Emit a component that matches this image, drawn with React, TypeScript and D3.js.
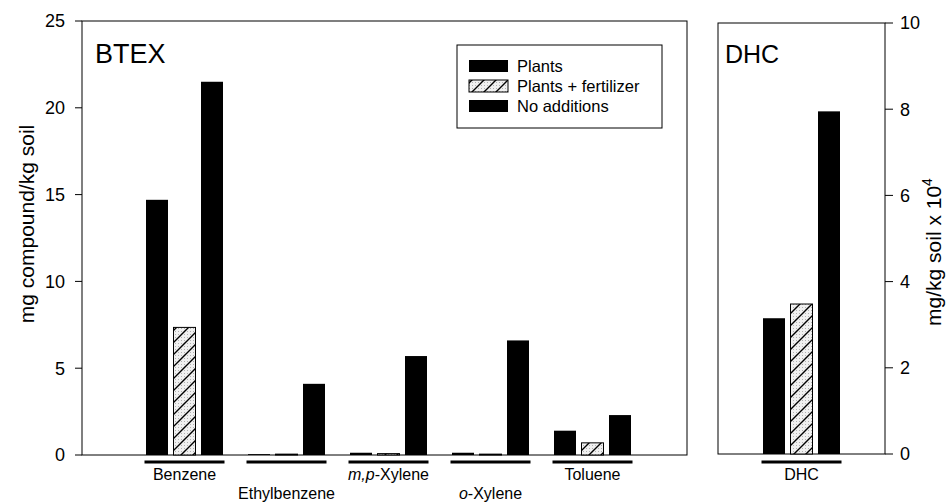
import React from "react";
import * as d3 from "d3";

// BTEX compounds (left panel) and treatments
const compounds = ["Benzene", "Ethylbenzene", "m,p-Xylene", "o-Xylene", "Toluene"];
const treatments = ["Plants", "Plants + fertilizer", "No additions"];

// mg compound / kg soil
const plantsValues = [14.7, 0.05, 0.13, 0.13, 1.4];
const plantsFertValues = [7.35, 0.05, 0.08, 0.05, 0.7];
const noAdditionValues = [21.5, 4.1, 5.7, 6.6, 2.3];

// DHC (right panel), mg/kg soil x 10^4
const dhcCategories = ["DHC"];
const dhcValues = [3.15, 3.48, 7.95];

const btexTicks = [0, 5, 10, 15, 20, 25];
const dhcTicks = [0, 2, 4, 6, 8, 10];

const FONT = "'Liberation Sans', Arial, Helvetica, sans-serif";

const seriesByTreatment = [plantsValues, plantsFertValues, noAdditionValues];

function barFill(i: number) {
  return i === 1 ? "url(#hatch)" : "#000";
}

function CompoundLabel({ name, x, y }: { name: string; x: number; y: number }) {
  if (name === "m,p-Xylene") {
    return (
      <text x={x} y={y} textAnchor="middle">
        <tspan fontStyle="italic">m,p</tspan>-Xylene
      </text>
    );
  }
  if (name === "o-Xylene") {
    return (
      <text x={x} y={y} textAnchor="middle">
        <tspan fontStyle="italic">o</tspan>-Xylene
      </text>
    );
  }
  return (
    <text x={x} y={y} textAnchor="middle">
      {name}
    </text>
  );
}

export default function App() {
  const width = 950;
  const height = 504;

  // Left panel frame
  const L = { x0: 82, x1: 687, y0: 21, y1: 455 };
  // Right panel frame
  const R = { x0: 718, x1: 885, y0: 23, y1: 454 };

  const yBtex = d3.scaleLinear().domain([0, 25]).range([L.y1, L.y0]);
  const yDhc = d3.scaleLinear().domain([0, 10]).range([R.y1, R.y0]);

  const xGroup = d3.scalePoint<string>().domain(compounds).range([184.5, 592.5]);
  const xInner = d3.scaleBand<string>().domain(treatments).range([-38.5, 38.5]).paddingInner(0.2);
  const xDhc = d3.scaleBand<string>().domain(dhcCategories).range([R.x0, R.x1]);
  const dhcCenter = (xDhc("DHC") as number) + xDhc.bandwidth() / 2;

  const bw = xInner.bandwidth();

  return (
    <svg
      width={width}
      height={height}
      style={{ position: "absolute", left: 0, top: 0, background: "#fff" }}
      fontFamily={FONT}
    >
      <defs>
        <pattern id="dots" width="3" height="3" patternUnits="userSpaceOnUse">
          <rect width="3" height="3" fill="#f0f0f0" />
          <rect x="1" y="1" width="1" height="1" fill="#b0b0b0" />
        </pattern>
        <pattern id="hatch" width="12" height="12" patternUnits="userSpaceOnUse">
          <rect width="12" height="12" fill="url(#dots)" />
          <path d="M0,12 L12,0 M-3,3 L3,-3 M9,15 L15,9" stroke="#000" strokeWidth="1.4" />
        </pattern>
      </defs>

      {/* Left panel: BTEX */}
      <rect x={L.x0} y={L.y0} width={L.x1 - L.x0} height={L.y1 - L.y0} fill="none" stroke="#000" strokeWidth={1} />
      <text x={95} y={63} fontSize={27}>BTEX</text>

      {btexTicks.map((t) => (
        <g key={"lt" + t}>
          <line x1={L.x0 - 7} x2={L.x0} y1={yBtex(t)} y2={yBtex(t)} stroke="#000" strokeWidth={1} />
          <text x={L.x0 - 17} y={yBtex(t)} dy="0.35em" textAnchor="end" fontSize={18}>
            {t}
          </text>
        </g>
      ))}
      <text transform={`translate(34,224) rotate(-90)`} textAnchor="middle" fontSize={21}>
        mg compound/kg soil
      </text>

      {compounds.map((c, ci) => {
        const cx = xGroup(c) as number;
        return (
          <g key={c}>
            {treatments.map((t, ti) => {
              const v = seriesByTreatment[ti][ci];
              const x = cx + (xInner(t) as number);
              const y = yBtex(v);
              return (
                <rect
                  key={t}
                  x={x}
                  y={y}
                  width={bw}
                  height={yBtex(0) - y}
                  fill={barFill(ti)}
                  stroke="#000"
                  strokeWidth={ti === 1 ? 1 : 0}
                />
              );
            })}
            <line x1={cx - 40} x2={cx + 40} y1={462} y2={462} stroke="#000" strokeWidth={3} />
            <g fontSize={16}>
              <CompoundLabel name={c} x={cx} y={ci % 2 === 0 ? 480 : 499} />
            </g>
          </g>
        );
      })}

      {/* Legend */}
      <rect x={457} y={45} width={205} height={83} fill="#fff" stroke="#000" strokeWidth={1} />
      {treatments.map((t, i) => {
        const cy = 66 + i * 20;
        return (
          <g key={"lg" + t}>
            <rect x={469} y={cy - 6} width={39} height={12} fill={barFill(i)} stroke="#000" strokeWidth={i === 1 ? 1 : 0} />
            <text x={517} y={cy} dy="0.36em" fontSize={16.5}>
              {t}
            </text>
          </g>
        );
      })}

      {/* Right panel: DHC */}
      <rect x={R.x0} y={R.y0} width={R.x1 - R.x0} height={R.y1 - R.y0} fill="none" stroke="#000" strokeWidth={1} />
      <text x={725} y={63} fontSize={25}>DHC</text>

      {dhcTicks.map((t) => (
        <g key={"rt" + t}>
          <line x1={R.x1} x2={R.x1 + 8} y1={yDhc(t)} y2={yDhc(t)} stroke="#000" strokeWidth={1} />
          <text x={R.x1 + 15} y={yDhc(t)} dy="0.35em" textAnchor="start" fontSize={18}>
            {t}
          </text>
        </g>
      ))}
      <text transform={`translate(941,252) rotate(-90)`} textAnchor="middle" fontSize={21}>
        mg/kg soil x 10<tspan dy="-9" fontSize={14}>4</tspan>
      </text>

      {treatments.map((t, ti) => {
        const v = dhcValues[ti];
        const x = dhcCenter + (xInner(t) as number);
        const y = yDhc(v);
        return (
          <rect
            key={"d" + t}
            x={x}
            y={y}
            width={bw}
            height={yDhc(0) - y}
            fill={barFill(ti)}
            stroke="#000"
            strokeWidth={ti === 1 ? 1 : 0}
          />
        );
      })}
      <line x1={dhcCenter - 40} x2={dhcCenter + 40} y1={462} y2={462} stroke="#000" strokeWidth={3} />
      <text x={dhcCenter} y={480} textAnchor="middle" fontSize={16}>
        DHC
      </text>
    </svg>
  );
}
